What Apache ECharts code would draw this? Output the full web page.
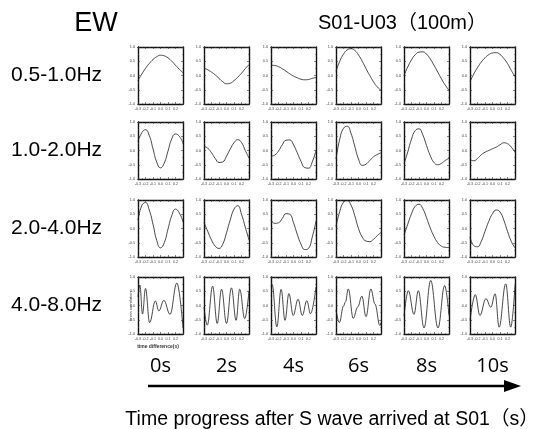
<!DOCTYPE html>
<html><head><meta charset="utf-8">
<script src="https://cdn.jsdelivr.net/npm/echarts@6/dist/echarts.min.js"></script>
<style>html,body{margin:0;padding:0;background:#fff}#c{width:540px;height:429px}</style>
</head><body><div id="c"></div>
<script>
// ---- data ----
const lags = [-0.3,-0.25,-0.2,-0.15,-0.1,-0.05,0,0.05,0.1,0.15,0.2,0.25,0.3];
const bandLabels = ['0.5-1.0Hz','1.0-2.0Hz','2.0-4.0Hz','4.0-8.0Hz'];
const timeLabels = ['0s','2s','4s','6s','8s','10s'];
const stationTitle = 'S01-U03（100m）';
const compTitle = 'EW';
const xAxisTitle = 'Time progress after S wave arrived at S01（s）';

// 0.5-1.0Hz
const r1c1 = [-0.18,0.05,0.25,0.42,0.56,0.66,0.71,0.69,0.62,0.50,0.36,0.22,0.10];
const r1c2 = [0.26,0.20,0.12,0.02,-0.10,-0.22,-0.29,-0.27,-0.18,-0.06,0.08,0.24,0.38];
const r1c3 = [0.36,0.35,0.31,0.24,0.15,0.06,-0.02,-0.08,-0.13,-0.15,-0.14,-0.10,-0.07];
const r1c4 = [0.15,0.50,0.75,0.90,0.94,0.88,0.72,0.50,0.24,0.00,-0.22,-0.40,-0.52];
const r1c5 = [0.00,0.30,0.55,0.73,0.82,0.83,0.75,0.58,0.36,0.12,-0.12,-0.34,-0.52];
const r1c6 = [-0.21,0.05,0.28,0.47,0.62,0.73,0.79,0.80,0.74,0.60,0.42,0.18,-0.04];
// 1.0-2.0Hz
const r2c1 = [0.32,0.62,0.73,0.53,0.06,-0.41,-0.61,-0.44,-0.02,0.41,0.58,0.50,0.26];
const r2c2 = [0.15,0.08,-0.08,-0.28,-0.42,-0.40,-0.20,0.05,0.27,0.38,0.28,0.00,-0.26];
const r2c3 = [-0.20,-0.16,-0.02,0.20,0.36,0.37,0.20,-0.08,-0.38,-0.60,-0.62,-0.40,0.00];
const r2c4 = [-0.30,0.40,0.78,0.85,0.60,0.15,-0.30,-0.52,-0.48,-0.35,-0.22,-0.14,-0.08];
const r2c5 = [-0.47,-0.05,0.40,0.70,0.76,0.55,0.18,-0.18,-0.42,-0.50,-0.45,-0.35,-0.27];
const r2c6 = [-0.32,-0.36,-0.28,-0.15,-0.06,0.00,0.06,0.12,0.20,0.27,0.24,0.12,-0.06];
// 2.0-4.0Hz
const r3c1 = [0.29,0.80,0.91,0.65,0.15,-0.42,-0.68,-0.50,-0.02,0.45,0.68,0.55,0.24];
const r3c2 = [0.21,-0.10,-0.40,-0.62,-0.70,-0.55,-0.15,0.30,0.68,0.80,0.50,0.05,-0.40];
const r3c3 = [0.29,0.18,0.20,0.35,0.52,0.50,0.20,-0.20,-0.55,-0.74,-0.70,-0.30,0.25];
const r3c4 = [0.07,0.60,0.92,0.98,0.82,0.45,0.00,-0.30,-0.44,-0.46,-0.38,-0.25,-0.14];
const r3c5 = [-0.23,0.15,0.52,0.78,0.85,0.70,0.38,0.02,-0.28,-0.50,-0.62,-0.66,-0.67];
const r3c6 = [-0.29,-0.60,-0.64,-0.45,-0.10,0.25,0.52,0.65,0.58,0.30,-0.10,-0.45,-0.68];
// 4.0-8.0Hz (turning points)
const r4c1x = [-0.3,-0.275,-0.24,-0.2,-0.145,-0.068,-0.023,0.045,0.127,0.218,0.3];
const r4c1y = [0.30,0.72,-0.30,0.60,-0.60,0.16,-0.19,0.18,-0.31,0.79,-0.77];
const r4c2x = [-0.3,-0.256,-0.185,-0.124,-0.066,0.0,0.066,0.128,0.176,0.243,0.3];
const r4c2y = [-0.06,-0.69,0.68,-0.63,0.57,-0.63,0.62,-0.52,0.57,-0.46,0.51];
const r4c3x = [-0.3,-0.285,-0.222,-0.165,-0.113,-0.061,-0.004,0.061,0.117,0.178,0.226,0.3];
const r4c3y = [0.68,0.74,-0.75,0.57,-0.52,0.42,-0.35,0.22,-0.35,0.17,-0.29,0.65];
const r4c4x = [-0.3,-0.255,-0.2,-0.175,-0.136,-0.07,-0.01,0.045,0.1,0.165,0.22,0.285,0.3];
const r4c4y = [-0.15,-0.60,-0.02,0.12,0.58,-0.45,-0.05,0.33,-0.39,0.58,0.05,-0.70,-0.60];
const r4c5x = [-0.3,-0.242,-0.167,-0.109,-0.033,0.056,0.153,0.242,0.3];
const r4c5y = [-0.37,0.52,-0.31,0.52,-0.79,0.88,-0.79,0.70,-0.35];
const r4c6x = [-0.3,-0.229,-0.168,-0.088,-0.022,0.035,0.088,0.176,0.243,0.3];
const r4c6y = [-0.53,0.38,-0.35,0.24,-0.06,0.41,-0.76,0.76,-0.76,0.70];

const smoothRows = [
  [r1c1,r1c2,r1c3,r1c4,r1c5,r1c6],
  [r2c1,r2c2,r2c3,r2c4,r2c5,r2c6],
  [r3c1,r3c2,r3c3,r3c4,r3c5,r3c6]
];
const hfX = [r4c1x,r4c2x,r4c3x,r4c4x,r4c5x,r4c6x];
const hfY = [r4c1y,r4c2y,r4c3y,r4c4y,r4c5y,r4c6y];

// ---- layout ----
const colLeft = [138,204,271,336,404,470];
const rowTop = [47,122,200,277];
const pw = 45, ph = 57;

const grids = [], xAxes = [], yAxes = [], series = [];
const lineCol = '#1a1a1a';
for (let r = 0; r < 4; r++) {
  for (let c = 0; c < 6; c++) {
    const g = grids.length;
    grids.push({left: colLeft[c], top: rowTop[r], width: pw, height: ph});
    const common = {
      type: 'value', gridIndex: g, splitLine: {show: false},
      axisLine: {show: true, onZero: false, lineStyle: {color: '#111', width: 1.4}},
      axisTick: {show: true, inside: true, length: 2, lineStyle: {color: '#333', width: 0.6}},
      minorTick: {show: true, splitNumber: 2, length: 1, lineStyle: {color: '#555', width: 0.5}}
    };
    xAxes.push(Object.assign({}, common, {
      position: 'bottom', min: -0.3, max: 0.3, interval: 0.1,
      axisLabel: {show: true, fontSize: 3.6, color: '#444', margin: 3,
        fontFamily: 'Liberation Sans',
        formatter: v => (v > 0.25 ? '' : (Math.abs(v) < 1e-9 ? '0.0' : v.toFixed(1)))}
    }));
    xAxes.push(Object.assign({}, common, {
      position: 'top', min: -0.3, max: 0.3, interval: 0.1, axisLabel: {show: false}
    }));
    yAxes.push(Object.assign({}, common, {
      position: 'left', min: -1, max: 1, interval: 0.5,
      axisLabel: {show: true, fontSize: 3.8, color: '#444', margin: 3,
        fontFamily: 'Liberation Sans',
        formatter: v => (Math.abs(v) < 1e-9 ? '0.0' : v.toFixed(1))}
    }));
    yAxes.push(Object.assign({}, common, {
      position: 'right', min: -1, max: 1, interval: 0.5, axisLabel: {show: false}
    }));
    let data, s;
    if (r < 3) {
      data = lags.map((x, i) => [x, smoothRows[r][c][i]]);
      s = {smooth: 0.5};
    } else {
      data = hfX[c].map((x, i) => [x, hfY[c][i]]);
      s = {smooth: 0.4, smoothMonotone: 'x'};
    }
    series.push(Object.assign({
      type: 'line', xAxisIndex: 2 * g, yAxisIndex: 2 * g, data: data,
      showSymbol: false, symbol: 'none', silent: true,
      lineStyle: {color: lineCol, width: 0.8}, z: 3
    }, s));
  }
}

const graphic = [];
graphic.push({type: 'text', x: 96, y: 24, style: {text: compTitle, font: '27px "Liberation Sans", Arial', fill: '#000', textAlign: 'center', textVerticalAlign: 'middle'}});
graphic.push({type: 'text', x: 318, y: 23, style: {text: stationTitle, font: '20px "Liberation Sans", "Noto Sans CJK JP"', fill: '#000', textAlign: 'left', textVerticalAlign: 'middle'}});
bandLabels.forEach((t, r) => {
  graphic.push({type: 'text', x: 11, y: rowTop[r] + ph / 2, style: {text: t, font: '21px "Liberation Sans", Arial', fill: '#000', textAlign: 'left', textVerticalAlign: 'middle'}});
});
timeLabels.forEach((t, c) => {
  graphic.push({type: 'text', x: colLeft[c] + pw / 2, y: 366, style: {text: t, font: '20px "Open Sans"', fill: '#000', textAlign: 'center', textVerticalAlign: 'middle'}});
});
// small axis names in first panel of last row
graphic.push({type: 'text', x: 158, y: 347, style: {text: 'time difference(s)', font: 'bold 5px "Liberation Sans"', fill: '#333', textAlign: 'center', textVerticalAlign: 'middle'}});
graphic.push({type: 'text', x: 131, y: 306, rotation: Math.PI / 2, style: {text: 'cross correlation', font: '4px "Liberation Sans"', fill: '#333', textAlign: 'center', textVerticalAlign: 'middle'}});
// arrow
graphic.push({type: 'line', shape: {x1: 148, y1: 386, x2: 510, y2: 386}, style: {stroke: '#000', lineWidth: 2.4}});
graphic.push({type: 'polygon', shape: {points: [[504, 380], [521, 386], [504, 392]]}, style: {fill: '#000'}});
graphic.push({type: 'text', x: 332, y: 420, style: {text: xAxisTitle, font: '19.5px "Liberation Sans", "Noto Sans CJK JP"', fill: '#000', textAlign: 'center', textVerticalAlign: 'middle'}});

const chart = echarts.init(document.getElementById('c'), null, {renderer: 'canvas'});
chart.setOption({
  animation: false,
  backgroundColor: '#fff',
  grid: grids, xAxis: xAxes, yAxis: yAxes, series: series,
  graphic: graphic
});
</script></body></html>
